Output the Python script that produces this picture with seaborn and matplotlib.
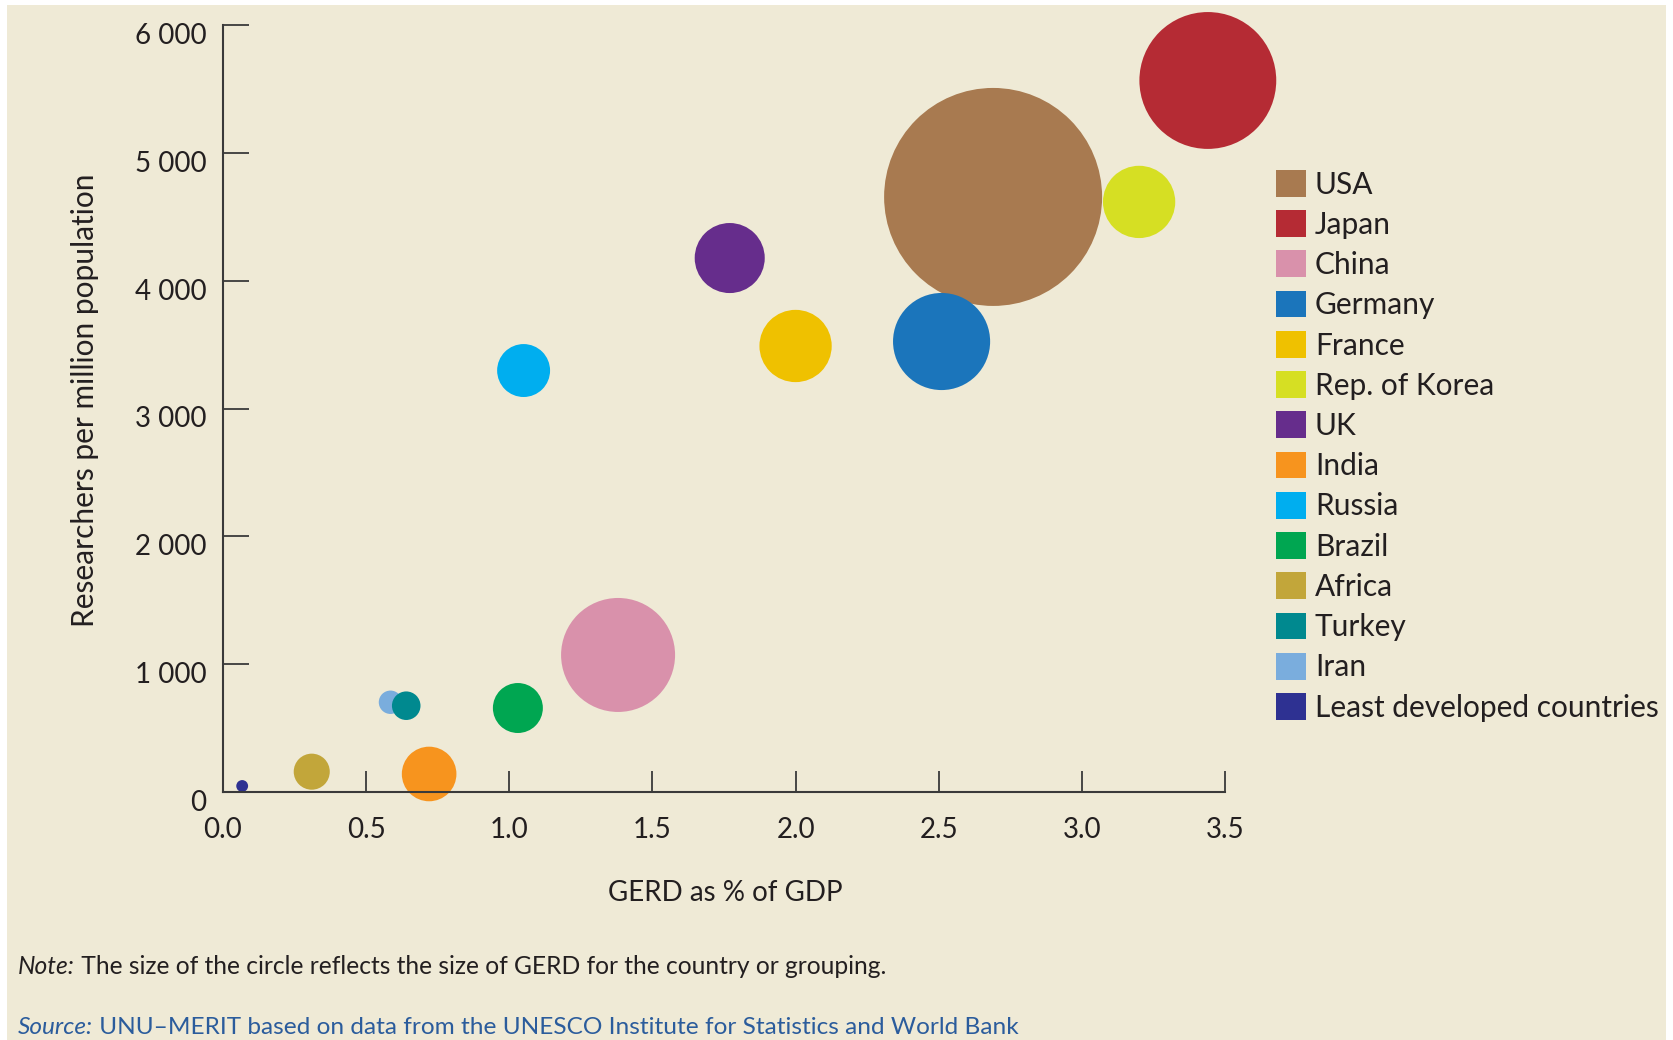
import pandas as pd
import seaborn as sns
import matplotlib.pyplot as plt
from matplotlib.patches import Patch, Rectangle
from matplotlib.transforms import ScaledTranslation

# data
countries = ["USA", "Japan", "China", "Germany", "France", "Rep. of Korea", "UK",
             "India", "Russia", "Brazil", "Africa", "Turkey", "Iran",
             "Least developed countries"]
gerd_pct = [2.69, 3.44, 1.38, 2.51, 2.00, 3.20, 1.77, 0.72, 1.05, 1.03, 0.31, 0.64, 0.585, 0.067]
researchers = [4655, 5566, 1072, 3524, 3489, 4616, 4177, 141, 3297, 657, 159, 675, 702, 47]
gerd_size = [373, 147, 102, 74, 41, 41, 38.5, 23.4, 22, 19.6, 10.2, 6.4, 4.3, 1.1]
colors = ["#A87A50", "#B52B34", "#D991AB", "#1B75BB", "#EFC100", "#D6DF23", "#662D8C",
          "#F7941E", "#00AEEF", "#00A651", "#C2A63A", "#00898F", "#7AADDD", "#2E3192"]
xticks = [0.0, 0.5, 1.0, 1.5, 2.0, 2.5, 3.0, 3.5]
yticks = [0, 1000, 2000, 3000, 4000, 5000, 6000]
ytick_labels = ["0", "1 000", "2 000", "3 000", "4 000", "5 000", "6 000"]
draw_order = ["USA", "Japan", "China", "Germany", "France", "Rep. of Korea", "UK",
              "India", "Russia", "Brazil", "Africa", "Iran", "Turkey",
              "Least developed countries"]

bg = "#EFEAD6"
ink = "#3a3a3a"
txt = "#231f20"

sns.set_style("ticks")
plt.rcParams["font.family"] = ["Lato", "DejaVu Sans"]

df = pd.DataFrame({"country": countries, "gerd_pct": gerd_pct,
                   "researchers": researchers, "gerd": gerd_size})
df = df.set_index("country").loc[draw_order].reset_index()
palette = dict(zip(countries, colors))

fig = plt.figure(figsize=(16.74, 10.40), dpi=100, facecolor="white")
fig.patches.append(Rectangle((7 / 1674, 0), 1659 / 1674, 1035 / 1040,
                             transform=fig.transFigure, facecolor=bg,
                             edgecolor="none", zorder=-1))
ax = fig.add_axes([223 / 1674, 1 - 792 / 1040, 1002 / 1674, 767 / 1040])
ax.set_facecolor(bg)

# radius of the USA circle ~109 px -> area in pt^2
smax = (2 * 109 * 0.72) ** 2
sns.scatterplot(data=df, x="gerd_pct", y="researchers", hue="country",
                palette=palette, size="gerd", sizes=(0, smax), size_norm=(0, 373),
                legend=False, linewidth=0, alpha=1, clip_on=False, ax=ax)

ax.set_xlim(0, 3.5)
ax.set_ylim(0, 6000)
ax.set_xticks(xticks, [f"{t:.1f}" for t in xticks])
ax.set_yticks(yticks, ytick_labels)
sns.despine(ax=ax)
for s in ["left", "bottom"]:
    ax.spines[s].set_color(ink)
    ax.spines[s].set_linewidth(1.5)
ax.tick_params(axis="y", direction="in", length=18.5, width=1.3, color=ink,
               labelsize=20, labelcolor=txt, pad=12)
ax.tick_params(axis="x", direction="in", length=15, width=1.3, color=ink,
               labelsize=20, labelcolor=txt, pad=18)
# y labels sit a little below their ticks in the original
shift = ScaledTranslation(0, -6 / 72, fig.dpi_scale_trans)
for lab in ax.get_yticklabels():
    lab.set_transform(lab.get_transform() + shift)

ax.set_xlabel("GERD as % of GDP", fontsize=20, color=txt)
ax.set_ylabel("Researchers per million population", fontsize=21.5, color=txt)
ax.xaxis.set_label_coords(0.5015, -0.1317)
ax.xaxis.label.set_va("center")
ax.yaxis.set_label_coords(-0.1377, 0.511)
ax.yaxis.label.set_va("center")

handles = [Patch(facecolor=c, edgecolor="none", label=n) for n, c in zip(countries, colors)]
fig.legend(handles=handles, loc="upper left", bbox_to_anchor=(1276 / 1674, 1 - 170 / 1040),
           frameon=False, fontsize=21.5, handlelength=1.0, handleheight=1.0,
           handletextpad=0.3, labelspacing=0.39, borderaxespad=0, borderpad=0,
           labelcolor=txt)

t1 = fig.text(18 / 1674, 1 - 966 / 1040, "Note:", style="italic", fontsize=17.7,
              color=txt, va="center")
ax.annotate(" The size of the circle reflects the size of GERD for the country or grouping.",
            xy=(1, 0), xycoords=t1, va="bottom", fontsize=17.7, color=txt,
            annotation_clip=False)
t2 = fig.text(18 / 1674, 1 - 1028 / 1040, "Source:", style="italic", fontsize=17.6,
              color="#2B5C9C", va="center")
ax.annotate(" UNU\u2013MERIT based on data from the UNESCO Institute for Statistics and World Bank",
            xy=(1, 0), xycoords=t2, va="bottom", fontsize=17.6, color="#2B5C9C",
            annotation_clip=False)

fig.savefig("out.png", dpi=100, facecolor="white")
